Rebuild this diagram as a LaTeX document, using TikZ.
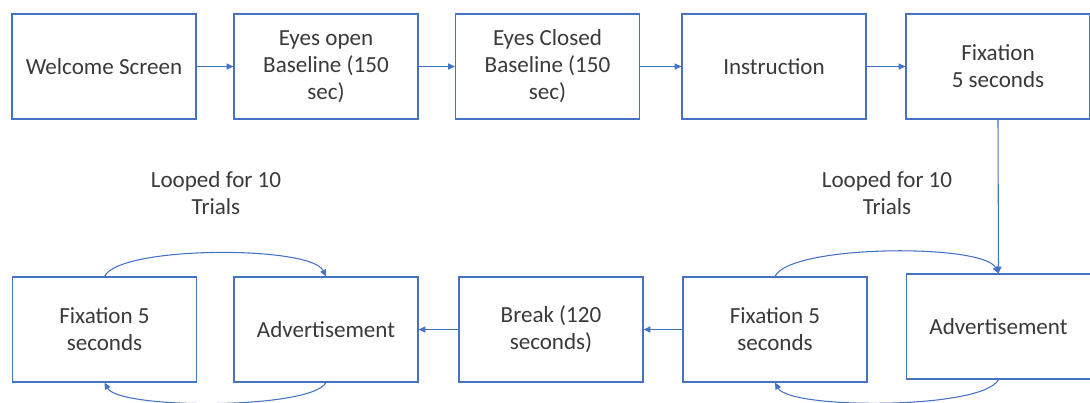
\documentclass[tikz,border=0pt]{standalone}
\usepackage{fontspec}
\setmainfont{Carlito}
\usepackage{tikz}
\usetikzlibrary{arrows.meta,positioning}
\definecolor{boxblue}{HTML}{4472C4}
\definecolor{txtgray}{HTML}{3A3A3A}
\tikzset{
  stagebox/.style={draw=boxblue,fill=white,line width=0.9pt,
                   minimum width=138pt,minimum height=78.75pt,
                   align=center,font=\fontsize{17.3}{20.3}\selectfont,
                   text=txtgray,inner sep=2pt},
  looplbl/.style={align=center,font=\fontsize{17.3}{20.3}\selectfont,text=txtgray},
  flowarr/.style={-{Triangle[length=5pt,width=4.5pt]},line width=0.8pt,color=boxblue},
  looparr/.style={-{Triangle[length=5pt,width=4.5pt]},line width=0.8pt,color=boxblue}
}

\begin{document}
\begin{tikzpicture}[x=0.75pt,y=-0.75pt]
  \clip (0,0) rectangle (1090,403);
  % top row
  \node[stagebox] (welcome) at (104,66.5) {Welcome Screen};
  \node[stagebox] (eyesopen) at (326,66.5) {Eyes open\\Baseline (150\\sec)};
  \node[stagebox] (eyesclosed) at (547.5,66.5) {Eyes Closed\\Baseline (150\\sec)};
  \node[stagebox] (instr) at (774,66.5) {Instruction};
  \node[stagebox] (fixtop) at (998,66.5) {Fixation\\5 seconds};
  % bottom row
  \node[stagebox] (fixleft) at (104.5,329.5) {Fixation 5\\seconds};
  \node[stagebox] (advleft) at (326,329.5) {Advertisement};
  \node[stagebox] (break) at (551,329.5) {Break (120\\seconds)};
  \node[stagebox] (fixright) at (775,329.5) {Fixation 5\\seconds};
  \node[stagebox] (advright) at (998.5,326.5) {Advertisement};
  % loop labels
  \node[looplbl] (loopleft) at (216,193) {Looped for 10\\Trials};
  \node[looplbl] (loopright) at (887,193) {Looped for 10\\Trials};
  % flow
  \draw[flowarr] (welcome) -- (eyesopen);
  \draw[flowarr] (eyesopen) -- (eyesclosed);
  \draw[flowarr] (eyesclosed) -- (instr);
  \draw[flowarr] (instr) -- (fixtop);
  \draw[flowarr] (fixtop.south) -- (advright.north);
  \draw[flowarr] (fixright) -- (break);
  \draw[flowarr] (break) -- (advleft);
  % loops
  \draw[looparr] (fixleft.north) .. controls +(15,-31) and +(-15,-31) .. (advleft.north);
  \draw[looparr] (advleft.south) .. controls +(-15,27) and +(15,27) .. (fixleft.south);
  \draw[looparr] (fixright.north) .. controls +(15,-32) and +(-15,-30) .. (advright.north);
  \draw[looparr] (advright.south) .. controls +(-15,30) and +(15,27) .. (fixright.south);
\end{tikzpicture}
\end{document}
